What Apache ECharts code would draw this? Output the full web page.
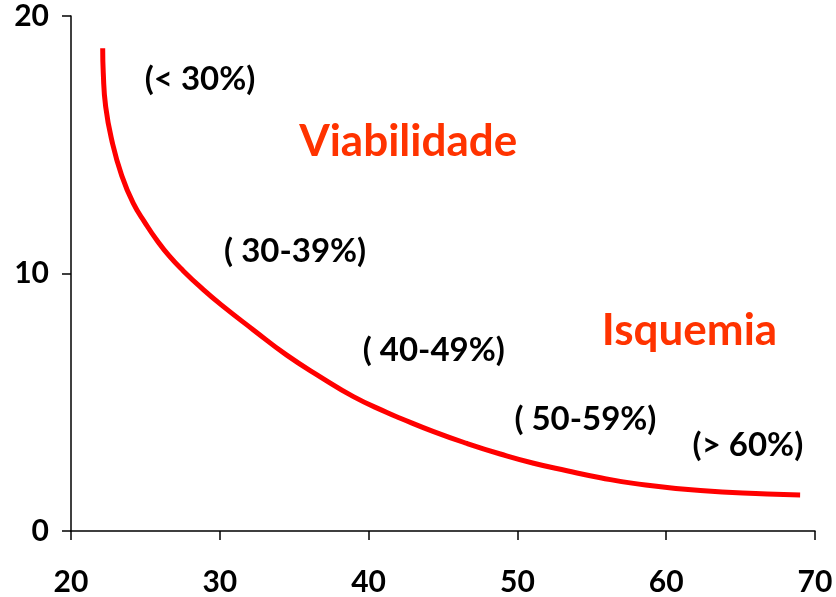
<!DOCTYPE html>
<html>
<head>
<meta charset="utf-8">
<script src="https://cdn.jsdelivr.net/npm/echarts@6/dist/echarts.min.js"></script>
<style>
    html, body { margin: 0; padding: 0; background: #fff; }
    #chart { width: 836px; height: 597px; }
</style>
</head>
<body>
<div id="chart"></div>
<script>
'use strict';

// curve
var curveX = [22.13, 22.17, 22.33, 22.74, 23.41, 24.19, 25.0, 25.76, 26.6, 27.55, 28.8, 30.1, 32.26, 34.5, 36.75, 38.98, 41.23, 42.13, 44.37, 46.61, 48.85, 51.09, 53.33, 55.58, 57.81, 62.3, 66.79, 69.0];
var curveY = [18.75, 17.77, 16.48, 15.18, 13.8, 12.72, 11.95, 11.3, 10.68, 10.1, 9.42, 8.78, 7.81, 6.83, 5.99, 5.22, 4.6, 4.38, 3.86, 3.4, 2.99, 2.63, 2.34, 2.07, 1.85, 1.57, 1.44, 1.40];

// annotations (text, x, y)
var rangeLabels = ['(< 30%)', '( 30-39%)', '( 40-49%)', '( 50-59%)', '(> 60%)'];
var rangeX = [28.67, 35.06, 44.38, 54.57, 65.49];
var rangeY = [17.55, 10.87, 7.03, 4.35, 3.34];

var zoneLabels = ['Viabilidade', 'Isquemia'];
var zoneX = [42.66, 61.56];
var zoneY = [15.1, 7.77];

var xTicks = [20, 70, 10];
var yTicks = [0, 20, 10];

var FONT = 'Lato, "Open Sans", sans-serif';

function pairs(xs, ys) {
    return xs.map(function (x, i) {
        return [x, ys[i]];
    });
}

function textPoints(labels, xs, ys) {
    return labels.map(function (t, i) {
        return { value: [xs[i], ys[i]], name: t };
    });
}

function textSeries(points, color, size) {
    return {
        type: 'scatter',
        symbolSize: 0,
        silent: true,
        itemStyle: { opacity: 1 },
        data: points,
        label: {
            show: true,
            position: 'inside',
            formatter: '{b}',
            color: color,
            fontSize: size,
            fontWeight: 'bold',
            fontFamily: FONT
        }
    };
}

var chart = echarts.init(document.getElementById('chart'));

chart.setOption({
    animation: false,
    backgroundColor: '#fff',
    grid: { left: 71, right: 21, top: 16, bottom: 66 },
    xAxis: {
        type: 'value',
        min: xTicks[0],
        max: xTicks[1],
        interval: xTicks[2],
        splitLine: { show: false },
        axisLine: { onZero: false, lineStyle: { color: '#000', width: 1.5 } },
        axisTick: { show: true, length: 9, lineStyle: { color: '#000', width: 1.5 } },
        axisLabel: { color: '#000', fontSize: 30, fontWeight: 'bold', fontFamily: FONT, margin: 36 }
    },
    yAxis: {
        type: 'value',
        min: yTicks[0],
        max: yTicks[1],
        interval: yTicks[2],
        splitLine: { show: false },
        axisLine: { show: true, lineStyle: { color: '#000', width: 1.5 } },
        axisTick: { show: true, length: 9, lineStyle: { color: '#000', width: 1.5 } },
        axisLabel: {
            color: '#000', fontSize: 30, fontWeight: 'bold', fontFamily: FONT,
            margin: 22, padding: [14, 0, 0, 0]
        }
    },
    series: [{
        type: 'line',
        data: pairs(curveX, curveY),
        smooth: 0.5,
        showSymbol: false,
        lineStyle: { color: '#ff0000', width: 5 }
    },
        textSeries(textPoints(rangeLabels, rangeX, rangeY), '#000', 33),
        textSeries(textPoints(zoneLabels, zoneX, zoneY), '#ff3300', 44)
    ]
});
</script>
</body>
</html>
